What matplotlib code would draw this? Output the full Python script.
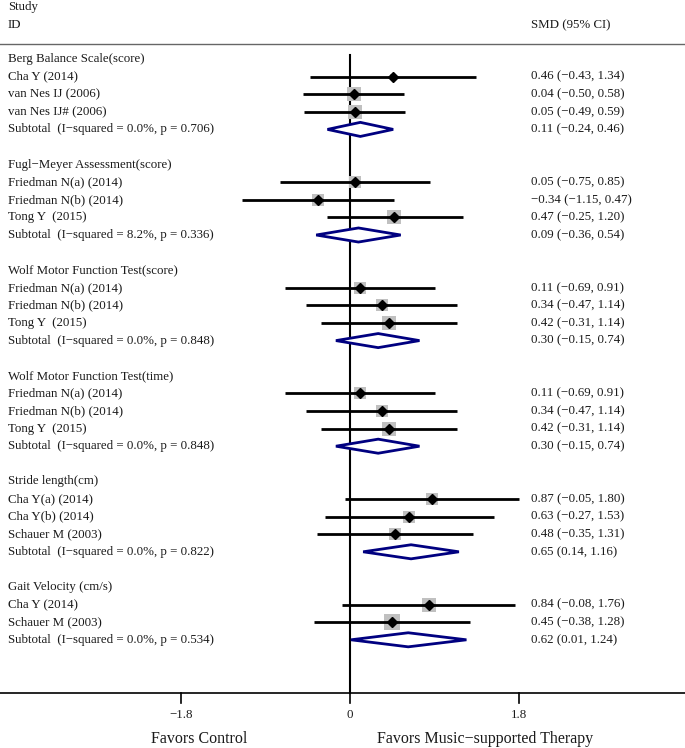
import matplotlib
matplotlib.use("Agg")
import matplotlib.pyplot as plt
import numpy as np

plt.rcParams['font.family'] = ['Liberation Serif', 'DejaVu Serif']

# study rows for each outcome
groups = ["Berg Balance Scale(score)", "Fugl\u2212Meyer Assessment(score)",
          "Wolf Motor Function Test(score)", "Wolf Motor Function Test(time)",
          "Stride length(cm)", "Gait Velocity (cm/s)"]
studies = [
    ["Cha Y (2014)", "van Nes IJ (2006)", "van Nes IJ# (2006)"],
    ["Friedman N(a) (2014)", "Friedman N(b) (2014)", "Tong Y  (2015)"],
    ["Friedman N(a) (2014)", "Friedman N(b) (2014)", "Tong Y  (2015)"],
    ["Friedman N(a) (2014)", "Friedman N(b) (2014)", "Tong Y  (2015)"],
    ["Cha Y(a) (2014)", "Cha Y(b) (2014)", "Schauer M (2003)"],
    ["Cha Y (2014)", "Schauer M (2003)"],
]
smd = [[0.46, 0.04, 0.05], [0.05, -0.34, 0.47], [0.11, 0.34, 0.42],
       [0.11, 0.34, 0.42], [0.87, 0.63, 0.48], [0.84, 0.45]]
lo = [[-0.43, -0.50, -0.49], [-0.75, -1.15, -0.25], [-0.69, -0.47, -0.31],
      [-0.69, -0.47, -0.31], [-0.05, -0.27, -0.35], [-0.08, -0.38]]
hi = [[1.34, 0.58, 0.59], [0.85, 0.47, 1.20], [0.91, 1.14, 1.14],
      [0.91, 1.14, 1.14], [1.80, 1.53, 1.31], [1.76, 1.28]]
# approximate study weights (%)
weights = [[8, 42, 42], [31, 31, 38], [31, 31, 38],
           [31, 31, 38], [31, 33, 36], [45, 55]]
sub_label = ["Subtotal  (I\u2212squared = 0.0%, p = 0.706)",
             "Subtotal  (I\u2212squared = 8.2%, p = 0.336)",
             "Subtotal  (I\u2212squared = 0.0%, p = 0.848)",
             "Subtotal  (I\u2212squared = 0.0%, p = 0.848)",
             "Subtotal  (I\u2212squared = 0.0%, p = 0.822)",
             "Subtotal  (I\u2212squared = 0.0%, p = 0.534)"]
sub_smd = [0.11, 0.09, 0.30, 0.30, 0.65, 0.62]
sub_lo = [-0.24, -0.36, -0.15, -0.15, 0.14, 0.01]
sub_hi = [0.46, 0.54, 0.74, 0.74, 1.16, 1.24]
xticks = [-1.8, 0, 1.8]
xtick_labels = ["\u22121.8", "0", "1.8"]


def fmt(v):
    return ("%.2f" % v).replace("-", "\u2212")


W, H = 685, 748
fig = plt.figure(figsize=(W / 100, H / 100), dpi=100)
ax = fig.add_axes([0, 0, 1, 1])
ax.set_axis_off()

# pixel -> data mapping
ppu = 93.9          # px per SMD unit
x0 = 350            # px of zero
rh = 17.6           # row height px
r0 = 59             # px of first row
ax.set_xlim(-x0 / ppu, (W - x0) / ppu)
ax.set_ylim((H - r0) / rh, -r0 / rh)

def py(p):
    return (p - r0) / rh

xl = (8 - x0) / ppu
xr = (531 - x0) / ppu
fs = 9.3
tc = '#1a1a1a'

ax.text(xl, py(7), "Study", fontsize=fs, color=tc, va='center')
ax.text(xl, py(25), "ID", fontsize=fs, color=tc, va='center')
ax.text(xr, py(25), "SMD (95% CI)", fontsize=fs, color=tc, va='center')
ax.axhline(py(44), color='#666666', lw=1)

row = 0
for g in range(len(groups)):
    ax.text(xl, row, groups[g], fontsize=fs, color=tc, va='center')
    row += 1
    for i in range(len(studies[g])):
        ax.text(xl, row, studies[g][i], fontsize=fs, color=tc, va='center')
        ax.text(xr, row, "%s (%s, %s)" % (fmt(smd[g][i]), fmt(lo[g][i]), fmt(hi[g][i])),
                fontsize=fs, color=tc, va='center')
        ax.plot(smd[g][i], row, marker='s', ms=2.16 * np.sqrt(weights[g][i]) * 0.72,
                color='#c0c0c0', mew=0, zorder=2)
        ax.plot([lo[g][i], hi[g][i]], [row, row], color='black', lw=2, zorder=3,
                solid_capstyle='butt')
        ax.plot(smd[g][i], row, marker='D', ms=5, color='black', zorder=4)
        row += 1
    ax.text(xl, row, sub_label[g], fontsize=fs, color=tc, va='center')
    ax.text(xr, row, "%s (%s, %s)" % (fmt(sub_smd[g]), fmt(sub_lo[g]), fmt(sub_hi[g])),
            fontsize=fs, color=tc, va='center')
    dx = [sub_lo[g], sub_smd[g], sub_hi[g], sub_smd[g], sub_lo[g]]
    dy = [row, row - 0.4, row, row + 0.4, row]
    ax.fill(dx, dy, facecolor='white', edgecolor='#000080', lw=2, zorder=3)
    row += 2

axis_y = py(693)
ax.plot([0, 0], [py(55), axis_y], color='black', lw=1.5, zorder=1)
ax.axhline(axis_y, color='black', lw=1.2)
for t, lab in zip(xticks, xtick_labels):
    ax.plot([t, t], [axis_y, py(703)], color='black', lw=1.2)
    ax.text(t, py(715), lab, fontsize=fs, color=tc, ha='center', va='center')

ax.text((199 - x0) / ppu, py(739), "Favors Control", fontsize=11.5, color=tc,
        ha='center', va='center')
ax.text((485 - x0) / ppu, py(739), "Favors Music\u2212supported Therapy", fontsize=11.5,
        color=tc, ha='center', va='center')

fig.savefig("out.png", dpi=100)
